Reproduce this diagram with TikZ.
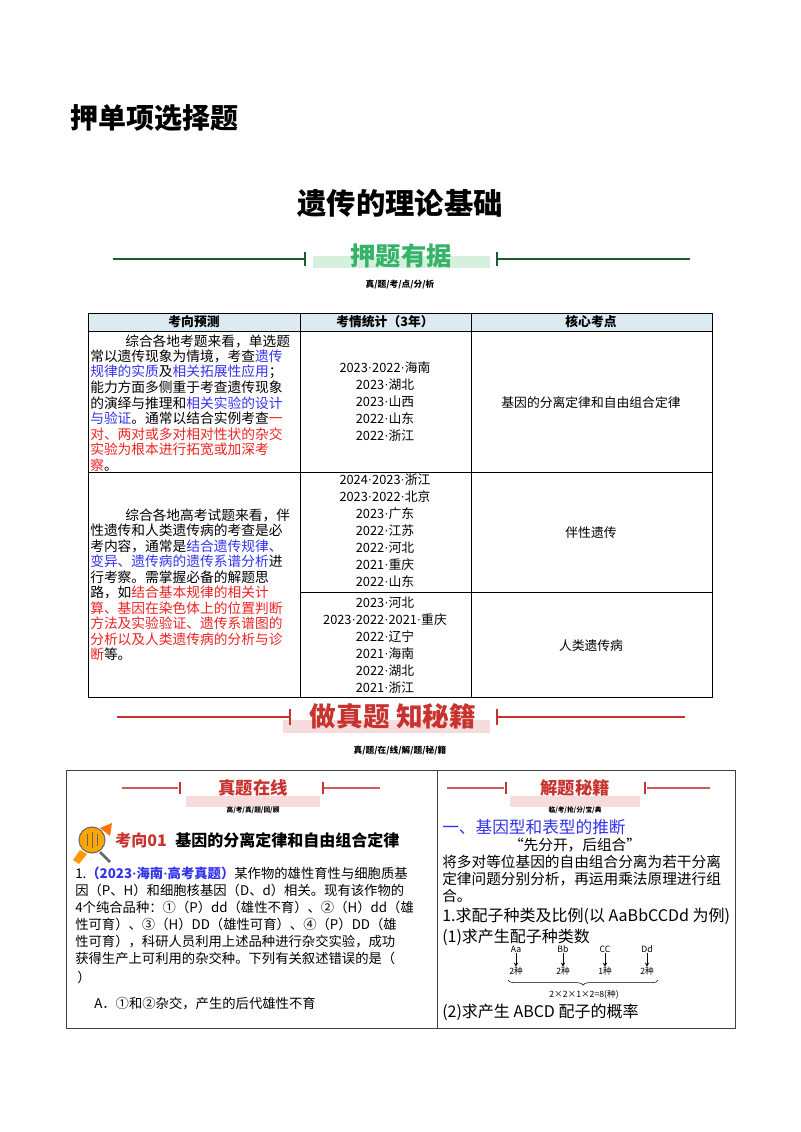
\documentclass[tikz,border=0pt]{standalone}
\usepackage{fontspec}
\setmainfont{Noto Sans CJK SC}
\newfontfamily\lat{Liberation Serif}
\newcommand{\md}{{\lat\textperiodcentered}}
\usetikzlibrary{decorations.pathreplacing}
\definecolor{dg}{HTML}{1E5C2E}
\definecolor{gt}{HTML}{35B368}
\definecolor{lg}{HTML}{D6F0DD}
\definecolor{rd}{HTML}{C8332F}
\definecolor{pk}{HTML}{F6DCDC}
\definecolor{hb}{HTML}{DCEAF2}
\definecolor{bl}{HTML}{3333EE}
\definecolor{rt}{HTML}{EE2222}
\begin{document}
\begin{tikzpicture}[x=0.75pt,y=-0.75pt,
  tx/.style={anchor=west,inner sep=0,font=\fontsize{10.3}{11}\selectfont},
  tc/.style={inner sep=0,font=\fontsize{9.6}{10}\selectfont},
  qx/.style={anchor=west,inner sep=0,font=\fontsize{10}{11}\selectfont},
  sub/.style={inner sep=0,font=\bfseries\fontsize{6.5}{7}\selectfont}]
\useasboundingbox[fill=white] (0,0) rectangle (800,1132);
\node[anchor=west,inner sep=0,font=\bfseries\fontsize{21}{22}\selectfont] (t1) at (70,118) {押单项选择题};
\node[inner sep=0,font=\bfseries\fontsize{22}{23}\selectfont] (t2) at (400,203) {遗传的理论基础};
% banner 1
\fill[lg] (313,256) rectangle (490,268);
\draw[dg,line width=1.3pt] (113,259) -- (305,259) (305,252)--(305,266) (497,252)--(497,266) (497,259)--(690,259);
\node[inner sep=0,text=gt,font=\bfseries\fontsize{19}{20}\selectfont] (b1) at (401,256) {押题有据};
\node[sub] (s1) at (400,285) {真/题/考/点/分/析};
% table
\fill[hb] (88,313) rectangle (712,331);
\draw[line width=0.6pt] (88,313) rectangle (712,697) (88,331)--(712,331) (300,313)--(300,697) (471,313)--(471,697) (88,472)--(712,472) (300,592)--(712,592);
\node[tc,font=\bfseries\fontsize{9.6}{10}\selectfont] (h1) at (194,322) {考向预测};
\node[tc,font=\bfseries\fontsize{9.6}{10}\selectfont] (h2) at (385,322) {考情统计（3年）};
\node[tc,font=\bfseries\fontsize{9.6}{10}\selectfont] (h3) at (591,322) {核心考点};
\node[tx] at (125,341) {综合各地考题来看，单选题};
\node[tx] at (90,356.5) {常以遗传现象为情境，考查\textcolor{bl}{遗传}};
\node[tx] at (90,372) {\textcolor{bl}{规律的实质}及\textcolor{bl}{相关拓展性应用}；};
\node[tx] at (90,387.5) {能力方面多侧重于考查遗传现象};
\node[tx] at (90,403) {的演绎与推理和\textcolor{bl}{相关实验的设计}};
\node[tx] at (90,418.5) {\textcolor{bl}{与验证}。通常以结合实例考查\textcolor{rt}{一}};
\node[tx,text=rt] at (90,434) {对、两对或多对相对性状的杂交};
\node[tx,text=rt] at (90,449.5) {实验为根本进行拓宽或加深考};
\node[tx] at (90,465) {\textcolor{rt}{察}。};
\node[tx] at (125,515) {综合各地高考试题来看，伴};
\node[tx] at (90,530.5) {性遗传和人类遗传病的考查是必};
\node[tx] at (90,546) {考内容，通常是\textcolor{bl}{结合遗传规律、}};
\node[tx] at (90,561.5) {\textcolor{bl}{变异、遗传病的遗传系谱分析}进};
\node[tx] at (90,577) {行考察。需掌握必备的解题思};
\node[tx] at (90,592.5) {路，如\textcolor{rt}{结合基本规律的相关计}};
\node[tx,text=rt] at (90,608) {算、基因在染色体上的位置判断};
\node[tx,text=rt] at (90,623.5) {方法及实验验证、遗传系谱图的};
\node[tx,text=rt] at (90,639) {分析以及人类遗传病的分析与诊};
\node[tx] at (90,654.5) {\textcolor{rt}{断}等。};
\foreach \t [count=\i] in {2023\md 2022\md 海南,2023\md 湖北,2023\md 山西,2022\md 山东,2022\md 浙江}
  \node[tc] at (385,351+17*\i) {\t};
\foreach \t [count=\i] in {2024\md 2023\md 浙江,2023\md 2022\md 北京,2023\md 广东,2022\md 江苏,2022\md 河北,2021\md 重庆,2022\md 山东}
  \node[tc] at (385,463+17*\i) {\t};
\foreach \t [count=\i] in {2023\md 河北,2023\md 2022\md 2021\md 重庆,2022\md 辽宁,2021\md 海南,2022\md 湖北,2021\md 浙江}
  \node[tc] at (385,586+17*\i) {\t};
\node[tc] (k1) at (591,403) {基因的分离定律和自由组合定律};
\node[tc] (k2) at (591,533) {伴性遗传};
\node[tc] (k3) at (591,646) {人类遗传病};
% banner 2
\fill[pk] (283,720) rectangle (490,733);
\draw[rd,line width=1.5pt] (117,717) -- (290,717) (290,709)--(290,725) (497,709)--(497,725) (497,717)--(685,717);
\node[inner sep=0,text=rd,font=\bfseries\fontsize{20}{21}\selectfont] (b2) at (393,716) {做真题\ 知秘籍};
\node[sub] (s2) at (400,751) {真/题/在/线/解/题/秘/籍};
% bottom box
\draw[line width=0.6pt,black!75] (66,770) rectangle (735,1028) (437,770)--(437,1028);
\fill[pk] (186,796) rectangle (320,807);
\draw[rd!80,line width=0.8pt] (122,788)--(178,788) (323,788)--(380,788);
\draw[rd,line width=1.3pt] (180,782)--(180,794) (323,782)--(323,794);
\node[inner sep=0,text=rd,font=\bfseries\fontsize{13}{14}\selectfont] (m1) at (253,788) {真题在线};
\node[sub,font=\bfseries\fontsize{5}{6}\selectfont] (ms1) at (253,810) {高/考/真/题/回/顾};
\fill[pk] (510,796) rectangle (640,807);
\draw[rd!80,line width=0.8pt] (447,788)--(504,788) (647,788)--(710,788);
\draw[rd,line width=1.3pt] (506,782)--(506,794) (645,782)--(645,794);
\node[inner sep=0,text=rd,font=\bfseries\fontsize{13}{14}\selectfont] (m2) at (575,788) {解题秘籍};
\node[sub,font=\bfseries\fontsize{5}{6}\selectfont] (ms2) at (575,810) {临/考/抢/分/宝/典};
% icon
\fill[orange!80!yellow] (80,850) -- (73,860) -- (79,864) -- (87,854) -- cycle;
\draw[line width=2pt,black!60] (100,852)--(110,862);
\fill[orange!70!yellow,draw=black!60,line width=0.8pt] (92,840) circle (13);
\fill[orange!90!red] (100,828) -- (112,823) -- (110,836) -- cycle;
\draw[black!60,line width=0.7pt] (87,834)--(87,846) (92,832)--(92,848) (97,834)--(97,846);
\node[anchor=west,inner sep=0,text=rd,font=\bfseries\fontsize{12}{13}\selectfont] (kx) at (115,840) {考向01};
\node[anchor=west,inner sep=0,font=\bfseries\fontsize{12}{13}\selectfont] (kt) at (175,840) {基因的分离定律和自由组合定律};
\node[qx] at (75,873) {1.\textcolor{bl}{\bfseries（2023\md 海南\md 高考真题）}某作物的雄性育性与细胞质基};
\node[qx] at (75,890) {因（P、H）和细胞核基因（D、d）相关。现有该作物的};
\node[qx] at (75,907) {4个纯合品种：①（P）dd（雄性不育）、②（H）dd（雄};
\node[qx] at (75,924) {性可育）、③（H）DD（雄性可育）、④（P）DD（雄};
\node[qx] at (75,941) {性可育），科研人员利用上述品种进行杂交实验，成功};
\node[qx] at (75,958) {获得生产上可利用的杂交种。下列有关叙述错误的是（};
\node[qx] at (77,977) {）};
\node[qx] at (94,1004) {A．①和②杂交，产生的后代雄性不育};
% right column
\node[anchor=west,inner sep=0,text=bl,font=\fontsize{12.5}{13}\selectfont] (r1) at (442,827) {一、基因型和表型的推断};
\node[inner sep=0,font=\fontsize{11}{12}\selectfont] (r2) at (575,845) {“先分开，后组合”};
\node[qx,font=\fontsize{11}{12}\selectfont] at (442,862) {将多对等位基因的自由组合分离为若干分离};
\node[qx,font=\fontsize{11}{12}\selectfont] at (442,879) {定律问题分别分析，再运用乘法原理进行组};
\node[qx,font=\fontsize{11}{12}\selectfont] at (442,896) {合。};
\node[qx,font=\fontsize{12}{13}\selectfont] at (442,916) {1.求配子种类及比例(以 AaBbCCDd 为例)};
\node[qx,font=\fontsize{12}{13}\selectfont] at (442,937) {(1)求产生配子种类数};
\foreach \g/\n/\x [count=\i] in {Aa/2/516,Bb/2/563,CC/1/605,Dd/2/647}{
  \node[inner sep=0,font=\fontsize{6.5}{7}\selectfont] (g\i) at (\x,949) {\g};
  \node[inner sep=0,font=\fontsize{6.5}{7}\selectfont] (n\i) at (\x,971) {\n 种};
  \draw[->,>=stealth,line width=0.4pt] (g\i) -- (n\i);
}
\draw[decorate,decoration={brace,mirror,amplitude=4pt},line width=0.4pt] (508,980) -- (658,980);
\node[inner sep=0,font=\fontsize{6.5}{7}\selectfont] (pr) at (584,995) {2×2×1×2=8(种)};
\node[qx,font=\fontsize{12}{13}\selectfont] at (442,1012) {(2)求产生 ABCD 配子的概率};
\end{tikzpicture}
\end{document}
